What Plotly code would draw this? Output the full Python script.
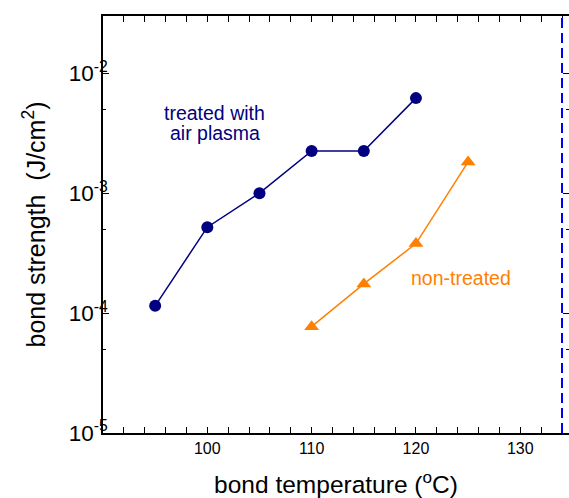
import plotly.graph_objects as go
import math

# Data
treated_x = [95, 100, 105, 110, 115, 120]
treated_y = [1.15e-4, 5.2e-4, 1.0e-3, 2.25e-3, 2.25e-3, 6.2e-3]
nontreated_x = [110, 115, 120, 125]
nontreated_y = [7.7e-5, 1.75e-4, 3.8e-4, 1.82e-3]
dash_x = 134
x_tickvals = [100, 110, 120, 130]
y_tickvals = [1e-5, 1e-4, 1e-3, 1e-2]
y_ticktext = ["10<sup>-5</sup>", "10<sup>-4</sup>", "10<sup>-3</sup>", "10<sup>-2</sup>"]
y_minor = [5e-5, 5e-4, 5e-3]

NAVY = "#000080"
ORANGE = "#FF8000"
FONT = "Arial, Liberation Sans, sans-serif"

x_range = [90, 134.67]
y_range = [-5, math.log10(3e-2)]

fig = go.Figure()
fig.add_trace(go.Scatter(
    x=treated_x, y=treated_y, mode="lines+markers",
    line=dict(color=NAVY, width=1.5),
    marker=dict(symbol="circle", size=12, color=NAVY),
    showlegend=False))
fig.add_trace(go.Scatter(
    x=nontreated_x, y=nontreated_y, mode="lines+markers",
    line=dict(color=ORANGE, width=1.5),
    marker=dict(symbol="triangle-up", size=13, color=ORANGE),
    showlegend=False))
for ax in ["y2", "y3", "y4"]:
    fig.add_trace(go.Scatter(x=[], y=[], yaxis=ax, showlegend=False))

fig.add_shape(type="line", x0=dash_x, x1=dash_x, y0=0, y1=1,
              xref="x", yref="paper",
              line=dict(color="#0000FF", width=2, dash="10px,5px"))

fig.add_annotation(x=100.7, y=-2.328, xref="x", yref="y",
                   text="treated with", showarrow=False,
                   font=dict(family=FONT, size=19.5, color=NAVY))
fig.add_annotation(x=100.7, y=-2.495, xref="x", yref="y",
                   text="air plasma", showarrow=False,
                   font=dict(family=FONT, size=19.5, color=NAVY))
fig.add_annotation(x=124.3, y=-3.711, xref="x", yref="y",
                   text="non-treated", showarrow=False,
                   font=dict(family=FONT, size=19.5, color=ORANGE))


def tick_axis(side, vals, length):
    return dict(
        type="log", range=y_range, overlaying="y", side=side, automargin=False,
        showgrid=False, zeroline=False, showline=False,
        ticks="inside", ticklen=length, tickwidth=1.2, tickcolor="black",
        tickmode="array", tickvals=vals, showticklabels=False)


fig.update_layout(
    width=569, height=498,
    margin=dict(l=103, r=0, t=16, b=65),
    paper_bgcolor="white", plot_bgcolor="white",
    font=dict(family=FONT, color="black"),
    xaxis=dict(
        range=x_range, showgrid=False, zeroline=False, automargin=False,
        showline=True, linecolor="black", linewidth=1.5, mirror="allticks",
        ticks="inside", ticklen=6, tickwidth=1.2, tickcolor="black",
        tickmode="array", tickvals=x_tickvals,
        tickfont=dict(family=FONT, size=16),
        minor=dict(ticks="inside", ticklen=3, tickwidth=1.2, tickcolor="black",
                   tick0=90, dtick=2),
        title=dict(text="bond temperature (<sup>o</sup>C)",
                   font=dict(family=FONT, size=24.5), standoff=22),
    ),
    yaxis=dict(
        type="log", range=y_range, showgrid=False, zeroline=False, automargin=False,
        showline=True, linecolor="black", linewidth=1.5,
        ticks="inside", ticklen=6, tickwidth=1.2, tickcolor="black",
        tickmode="array", tickvals=y_tickvals, ticktext=y_ticktext,
        tickfont=dict(family=FONT, size=22.5), ticklabelstandoff=-11,
        title=dict(text="bond strength\u00a0\u00a0(J/cm<sup>2</sup>)",
                   font=dict(family=FONT, size=25), standoff=16),
    ),
    yaxis2=tick_axis("right", y_tickvals, 6),
    yaxis3=tick_axis("left", y_minor, 3),
    yaxis4=tick_axis("right", y_minor, 3),
)

fig.write_html("out.html", config={"displayModeBar": False},
               post_script="document.body.style.margin='0';document.body.style.overflow='hidden';")
